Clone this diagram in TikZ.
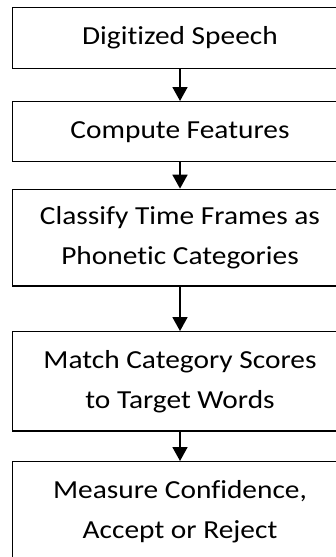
\documentclass[tikz,border=0pt]{standalone}
\usepackage{fontspec}
\setmainfont{Carlito}[Ligatures=NoCommon, FakeStretch=1.13]
\usepackage{tikz}
\usetikzlibrary{arrows.meta}

\begin{document}
\begin{tikzpicture}[x=1pt, y=-1pt,
  stage/.style={draw, line width=1.4pt, minimum width=335pt, inner sep=0pt,
    align=center, font=\fontsize{26}{40}\selectfont},
  flow/.style={line width=1.8pt, -{Triangle[width=15pt,length=14pt]}}]
\useasboundingbox (0,0) rectangle (335,557);
\node[stage, minimum height=61pt] (speech) at (180,38) {Digitized Speech};
\node[stage, minimum height=60pt] (features) at (180,131.7) {Compute Features};
\node[stage, minimum height=96.7pt] (classify) at (180,237.7) {Classify Time Frames as\\Phonetic Categories};
\node[stage, minimum height=99.3pt] (match) at (180,381.4) {Match Category Scores\\to Target Words};
\node[stage, minimum height=99pt] (confidence) at (180,511.2) {Measure Confidence,\\Accept or Reject};
% arrows between the stages
\draw[flow] (speech) -- (features);
\draw[flow] (features) -- (classify);
\draw[flow] (classify) -- (match);
\draw[flow] (match) -- (confidence);
\end{tikzpicture}
\end{document}
